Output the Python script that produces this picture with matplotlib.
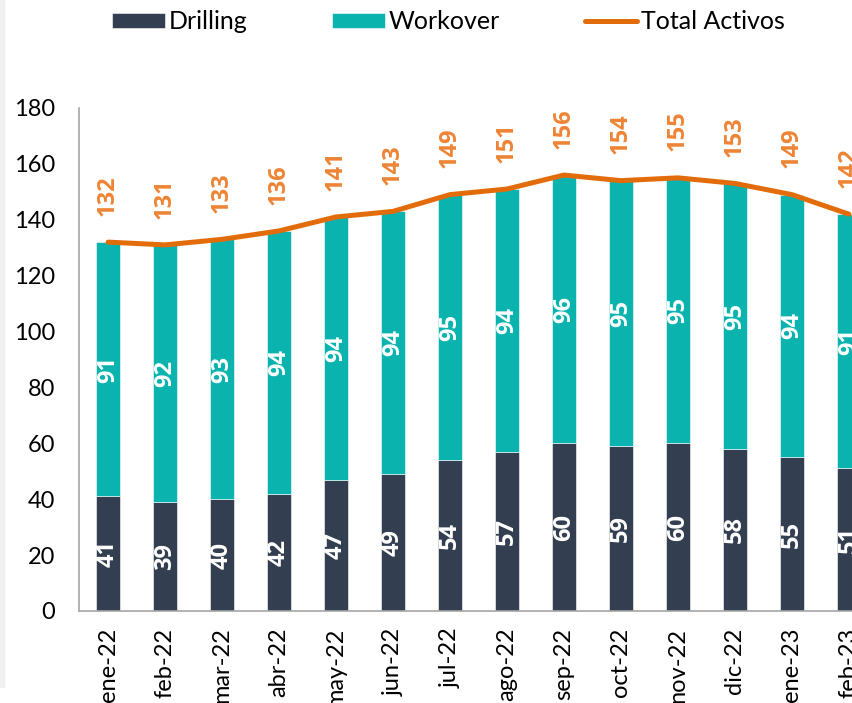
import matplotlib.pyplot as plt
import numpy as np
from matplotlib.patches import Rectangle

plt.rcParams['font.family'] = ['Lato', 'DejaVu Sans']

months = ['ene-22', 'feb-22', 'mar-22', 'abr-22', 'may-22', 'jun-22', 'jul-22',
          'ago-22', 'sep-22', 'oct-22', 'nov-22', 'dic-22', 'ene-23', 'feb-23']
drilling = [41, 39, 40, 42, 47, 49, 54, 57, 60, 59, 60, 58, 55, 51]
workover = [91, 92, 93, 94, 94, 94, 95, 94, 96, 95, 95, 95, 94, 91]
total = [132, 131, 133, 136, 141, 143, 149, 151, 156, 154, 155, 153, 149, 142]

c_drill = '#333F50'
c_work = '#0BB3AF'
c_line = '#E36C0A'
c_lab = '#EE8434'
lab_font = dict(family=['Open Sans', 'DejaVu Sans'], fontsize=17, fontweight='bold')

fig = plt.figure(figsize=(8.53, 7.03), dpi=100)
# axes runs past the right edge, last month gets cut off
ax = fig.add_axes([0.0926, 0.1309, 0.936, 0.7155])

x = np.arange(len(months))
w = 0.41
b1 = ax.bar(x, drilling, w, color=c_drill, edgecolor='white', linewidth=0.4)
b2 = ax.bar(x, workover, w, bottom=drilling, color=c_work, edgecolor='white', linewidth=0.4)
ln, = ax.plot(x, total, color=c_line, lw=3.6, solid_capstyle='round')

for i in range(len(months)):
    ax.text(x[i], drilling[i] / 2, str(drilling[i]), rotation=90, ha='center', va='center',
            color='white', **lab_font)
    ax.text(x[i], drilling[i] + workover[i] / 2, str(workover[i]), rotation=90, ha='center',
            va='center', color='white', **lab_font)
    ax.annotate(str(total[i]), (x[i], total[i]), xytext=(0, 19), textcoords='offset points',
                rotation=90, ha='center', va='bottom', color=c_lab, **lab_font)

ax.set_xlim(-0.51, 13.5)
ax.set_ylim(0, 180)
ax.set_yticks(range(0, 181, 20))
ax.set_xticks(x)
ax.set_xticklabels(months, rotation=90)
ax.tick_params(axis='both', length=0, labelsize=17)
ax.tick_params(axis='y', pad=17)
ax.tick_params(axis='x', pad=12)
for s in ['top', 'right']:
    ax.spines[s].set_visible(False)
for s in ['left', 'bottom']:
    ax.spines[s].set_color('#A6A6A6')
    ax.spines[s].set_linewidth(1.2)

fig.legend([b1, b2, ln], ['Drilling', 'Workover', 'Total Activos'],
           loc='center', bbox_to_anchor=(0.526, 0.969), ncol=3, frameon=False, fontsize=18,
           handlelength=2.1, handletextpad=0.15, columnspacing=3.4, handleheight=0.6)

# faint chart-area border on the left
fig.patches.append(Rectangle((0, 16 / 703), 4 / 853, 1, transform=fig.transFigure,
                             color='#EFEFEF', zorder=-1))

fig.savefig('out.png', dpi=100)
